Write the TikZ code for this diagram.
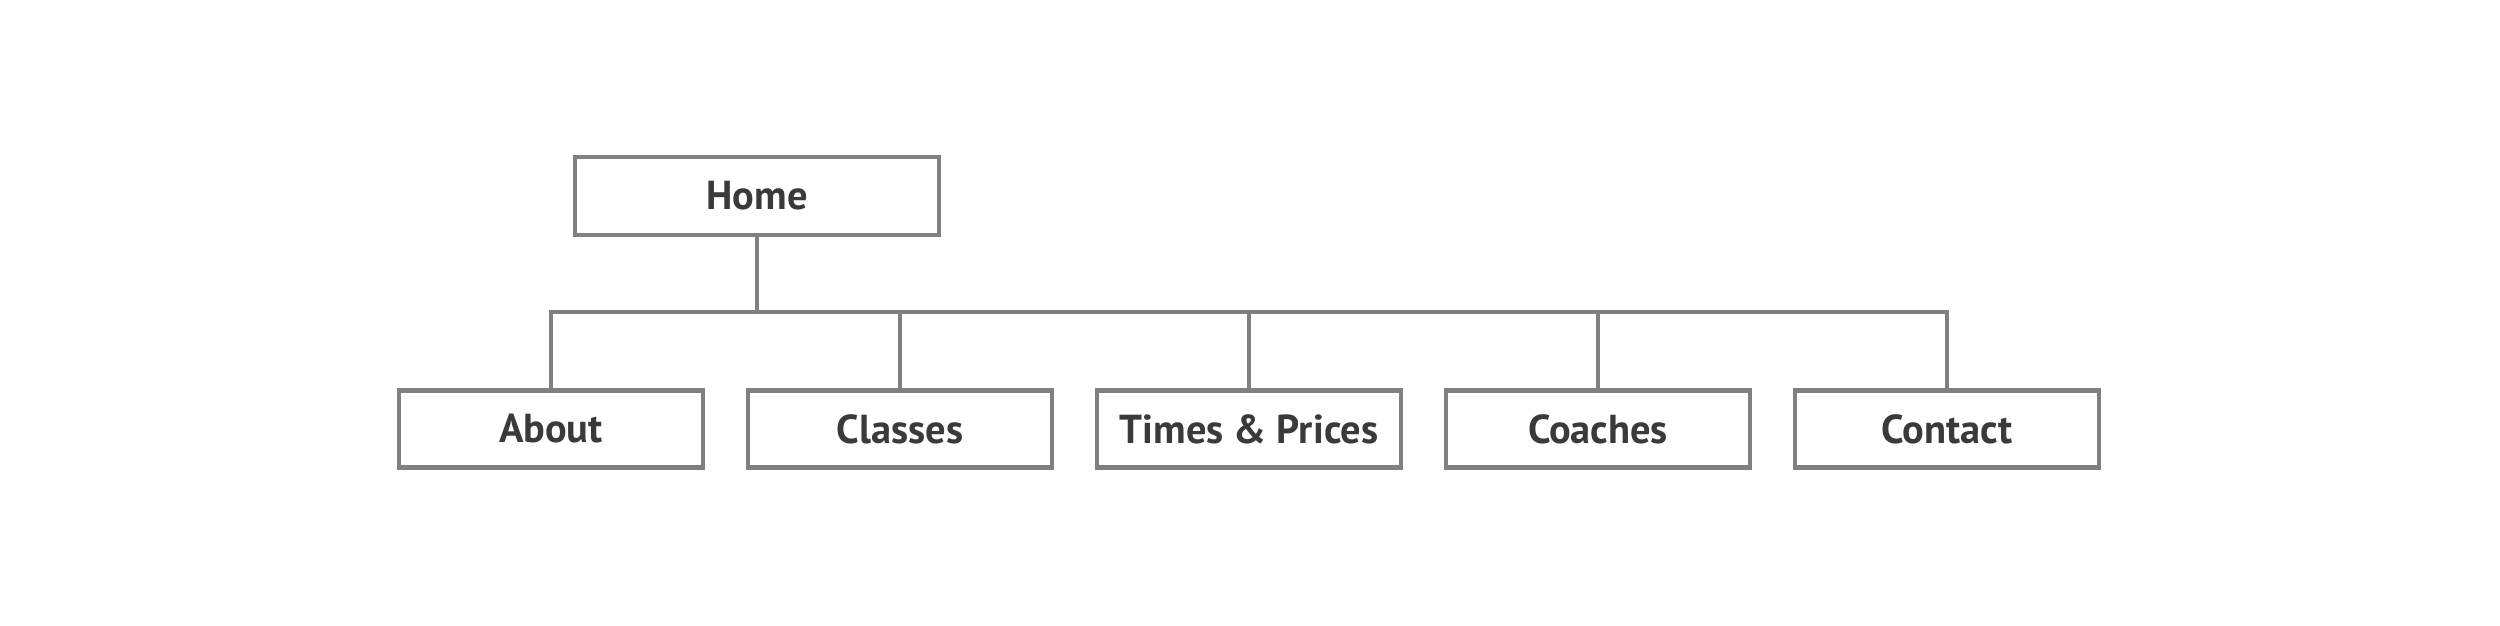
\documentclass[tikz,border=0pt]{standalone}
\usepackage{fontspec}
\setmainfont{PT Sans}
\definecolor{boxgrey}{HTML}{808080}
\definecolor{textgrey}{HTML}{3A3A3A}
\begin{document}
\begin{tikzpicture}[
    page/.style={rectangle, draw=boxgrey, line width=1.2pt, fill=white, text=textgrey,
                 font=\fontsize{11.5}{13}\selectfont\bfseries,
                 minimum width=3.04cm, minimum height=0.77cm, inner sep=0pt}
]
                \useasboundingbox (0,0) rectangle (25,6.25);
                \node[page, minimum width=3.64cm, minimum height=0.78cm] (home) at (7.57,4.29) {Home};
                \coordinate (bus) at (7.57,3.13);
                \draw[boxgrey, line width=1.2pt] (home.south) -- (bus);
                \foreach[count=\x] \t in {About,Classes,Times \& Prices,Coaches,Contact}
                {
                    \node[page] (v\x) at (5.51+3.49*\x-3.49,1.96) {\t};
                    \draw[boxgrey, line width=1.2pt] (bus) -| (v\x.north);
                }
            \end{tikzpicture}
\end{document}
